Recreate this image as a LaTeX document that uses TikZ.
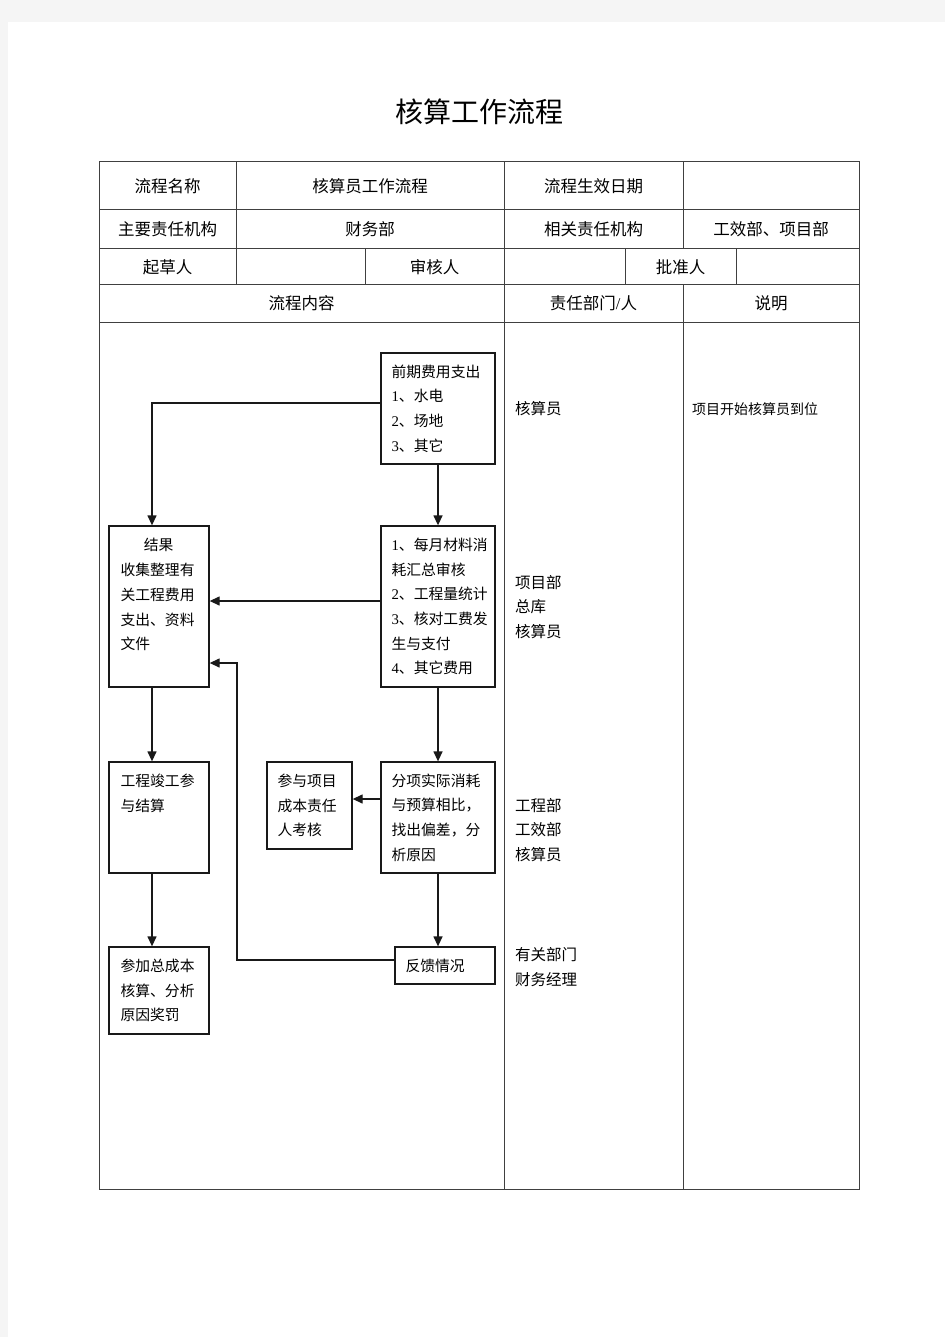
\documentclass[tikz,border=0pt]{standalone}
\usepackage{fontspec}
\setmainfont{Noto Sans CJK SC}
\newfontfamily\latn{Liberation Serif}
\usetikzlibrary{arrows.meta,calc}
\newcommand\dg[1]{{\latn #1}}
\begin{document}
\begin{tikzpicture}[x=1pt,y=-1pt,
  tline/.style={draw=black!75, line width=1pt},
  fbox/.style={draw=black!90, line width=1.3pt, inner sep=0},
  btext/.style={font=\fontsize{14.8}{24.7}\selectfont, align=left, inner sep=0, anchor=west},
  rtext/.style={font=\fontsize{15.5}{24.7}\selectfont, align=left, inner sep=0, anchor=west},
  htext/.style={font=\fontsize{16.5}{20}\selectfont, inner sep=0},
  arr/.style={draw=black!90, line width=1.3pt, -{Triangle[length=10pt,width=9pt]}}
]
\useasboundingbox (0,0) rectangle (945,1337);
\fill[black!4] (0,0) rectangle (945,1337);
\fill[white] (8,22) rectangle (945,1337);

% title
\node[font=\fontsize{28}{30}\selectfont, inner sep=0] (title) at (479,112) {核算工作流程};

% table grid
\draw[tline] (99,162) rectangle (859,1189);
\foreach \yy in {210,249,285,322} \draw[tline] (99,\yy) -- (859,\yy);
\draw[tline] (236,162) -- (236,285);
\draw[tline] (504,162) -- (504,1189);
\draw[tline] (683,162) -- (683,249);
\draw[tline] (683,285) -- (683,1189);
\foreach \xx in {365,625,736} \draw[tline] (\xx,249) -- (\xx,285);

% header texts
\node[htext] (h11) at (167.5,186) {流程名称};
\node[htext] (h12) at (370,186) {核算员工作流程};
\node[htext] (h13) at (593.5,186) {流程生效日期};
\node[htext] (h21) at (167.5,229) {主要责任机构};
\node[htext] (h22) at (370,229) {财务部};
\node[htext] (h23) at (593.5,229) {相关责任机构};
\node[htext] (h24) at (771,229) {工效部、项目部};
\node[htext] (h31) at (167.5,267) {起草人};
\node[htext] (h32) at (434.5,267) {审核人};
\node[htext] (h33) at (680.5,267) {批准人};
\node[htext] (h41) at (301.5,303) {流程内容};
\node[htext] (h42) at (593.5,303) {责任部门\dg{/}人};
\node[htext] (h43) at (771,303) {说明};

% flow boxes
\node[fbox, minimum width=114, minimum height=111] (A) at (438,408.5) {};
\node[fbox, minimum width=114, minimum height=161] (B) at (438,606.5) {};
\node[fbox, minimum width=100, minimum height=161] (C) at (159,606.5) {};
\node[fbox, minimum width=100, minimum height=111] (D) at (159,817.5) {};
\node[fbox, minimum width=85, minimum height=87] (E) at (309.5,805.5) {};
\node[fbox, minimum width=114, minimum height=111] (F) at (438,817.5) {};
\node[fbox, minimum width=100, minimum height=37] (G) at (445,965.5) {};
\node[fbox, minimum width=100, minimum height=87] (H) at (159,990.5) {};

% box texts
\node[btext] (At) at ($(A.west)+(11,0)$) {前期费用支出\\\dg{1}、水电\\\dg{2}、场地\\\dg{3}、其它};
\node[btext] (Bt) at ($(B.west)+(11,0)$) {\dg{1}、每月材料消\\耗汇总审核\\\dg{2}、工程量统计\\\dg{3}、核对工费发\\生与支付\\\dg{4}、其它费用};
\node[btext] (Ct) at ($(C.west)+(12,0)$) {\makebox[76pt]{结果}\\收集整理有\\关工程费用\\支出、资料\\文件\\\mbox{}};
\node[btext] (Dt) at ($(D.west)+(12,0)$) {工程竣工参\\与结算\\\mbox{}\\\mbox{}};
\node[btext] (Et) at ($(E.west)+(11,0)$) {参与项目\\成本责任\\人考核};
\node[btext] (Ft) at ($(F.west)+(11,0)$) {分项实际消耗\\与预算相比，\\找出偏差，分\\析原因};
\node[btext] (Gt) at ($(G.west)+(11,0)$) {反馈情况};
\node[btext] (Ht) at ($(H.west)+(12,0)$) {参加总成本\\核算、分析\\原因奖罚};

% responsibility column
\node[rtext] (r1) at (515,409) {核算员};
\node[rtext] (r2) at (515,607) {项目部\\总库\\核算员};
\node[rtext] (r3) at (515,830) {工程部\\工效部\\核算员};
\node[rtext] (r4) at (515,967) {有关部门\\财务经理};
\node[btext, font=\fontsize{14}{20}\selectfont] (n1) at (692,409) {项目开始核算员到位};

% connectors
\coordinate (cx) at (152,0);
\coordinate (a1) at (0,403);
\coordinate (b1) at (0,601);
\coordinate (f1) at (0,799);
\coordinate (g1) at (0,960);
\coordinate (g2) at (237,663);
\draw[arr] (A.west |- a1) -| (cx |- C.north);
\draw[arr] (A.south) -- (B.north);
\draw[arr] (B.west |- b1) -- (C.east |- b1);
\draw[arr] (B.south) -- (F.north);
\draw[arr] (F.west |- f1) -- (E.east |- f1);
\draw[arr] (F.south) -- (F.south |- G.north);
\draw[arr] (G.west |- g1) -| (g2) -- (C.east |- g2);
\draw[arr] (cx |- C.south) -- (cx |- D.north);
\draw[arr] (cx |- D.south) -- (cx |- H.north);
\end{tikzpicture}
\end{document}
